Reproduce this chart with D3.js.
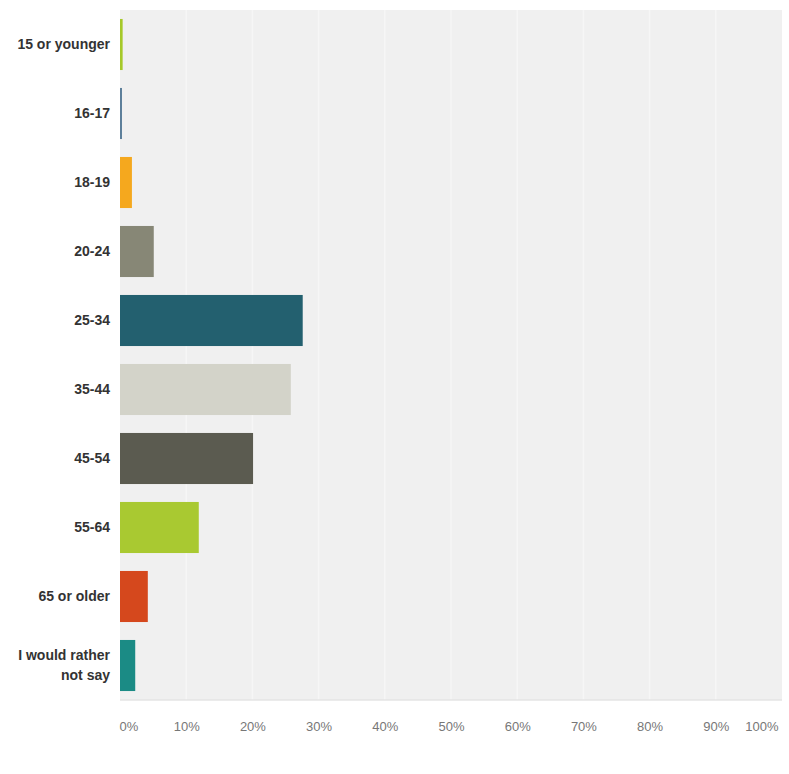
<!DOCTYPE html>
<html>
<head>
<meta charset="utf-8">
<script src="https://cdn.jsdelivr.net/npm/d3@7/dist/d3.min.js"></script>
<style>
  html, body { margin: 0; padding: 0; background: #ffffff; }
  svg { display: block; }
</style>
</head>
<body>
<svg id="chart" width="789" height="774"></svg>
<script>
// Age groups of respondents (percent of answers)
const categories = ["15 or younger", "16-17", "18-19", "20-24", "25-34", "35-44", "45-54", "55-64", "65 or older", "I would rather not say"];
const values = [0.4, 0.3, 1.8, 5.1, 27.6, 25.8, 20.1, 11.9, 4.2, 2.3];
const colors = ["#a6c92a", "#5d7f9a", "#f5a81e", "#878776", "#23606f", "#d3d3c9", "#5b5b50", "#a9c931", "#d5481d", "#1b8b85"];
const tickValues = [0, 10, 20, 30, 40, 50, 60, 70, 80, 90, 100];
const tickLabels = ["0%", "10%", "20%", "30%", "40%", "50%", "60%", "70%", "80%", "90%", "100%"];

const svg = d3.select("#chart");
const plot = { left: 120, right: 782, top: 10, bottom: 700 };

const x = d3.scaleLinear().domain([0, 100]).range([plot.left, plot.right]);
const y = d3.scaleBand().domain(categories).range([plot.top, plot.bottom]).paddingInner(0.26).paddingOuter(0.13);

// plot background
svg.append("rect")
  .attr("x", plot.left).attr("y", plot.top)
  .attr("width", plot.right - plot.left).attr("height", plot.bottom - plot.top)
  .attr("fill", "#f0f0f0");

// vertical grid lines (very faint)
svg.append("g").selectAll("line")
  .data(tickValues.slice(1, -1))
  .join("line")
  .attr("x1", d => x(d)).attr("x2", d => x(d))
  .attr("y1", plot.top).attr("y2", plot.bottom)
  .attr("stroke", "#f6f6f6").attr("stroke-width", 1.5);

// bottom edge of plot
svg.append("line")
  .attr("x1", plot.left).attr("x2", plot.right)
  .attr("y1", plot.bottom).attr("y2", plot.bottom)
  .attr("stroke", "#e4e4e4").attr("stroke-width", 1.5);

// bars
svg.append("g").selectAll("rect")
  .data(categories)
  .join("rect")
  .attr("x", x(0))
  .attr("y", d => y(d))
  .attr("height", y.bandwidth())
  .attr("width", (d, i) => Math.max(1.5, x(values[i]) - x(0)))
  .attr("fill", (d, i) => colors[i]);

// category labels (bold, right-aligned, wrapped where long)
const labelWrap = { "I would rather not say": ["I would rather", "not say"] };
const catG = svg.append("g")
  .attr("font-family", "'Liberation Sans', Arial, sans-serif")
  .attr("font-size", 14).attr("font-weight", "bold").attr("fill", "#333333")
  .attr("text-anchor", "end");
categories.forEach(c => {
  const lines = labelWrap[c] || [c];
  const cy = y(c) + y.bandwidth() / 2;
  const lh = 20;
  lines.forEach((ln, k) => {
    catG.append("text")
      .attr("x", 110)
      .attr("y", cy + (k - (lines.length - 1) / 2) * lh)
      .attr("dy", "0.35em")
      .text(ln);
  });
});

// x axis tick labels
const axis = d3.axisBottom(x)
  .tickValues(tickValues)
  .tickFormat((d, i) => tickLabels[i])
  .tickSize(0)
  .tickPadding(0);
const axG = svg.append("g")
  .attr("transform", `translate(0, ${plot.bottom + 22})`)
  .call(axis);
axG.select(".domain").remove();
axG.selectAll("text")
  .attr("font-family", "'Liberation Sans', Arial, sans-serif")
  .attr("font-size", 13)
  .attr("fill", "#777777")
  .attr("dy", "0.71em")
  .attr("text-anchor", (d) => d === 0 ? "start" : (d === 100 ? "end" : "middle"))
  .attr("dx", (d) => d === 0 ? -1 : (d === 100 ? -4 : 0));
</script>
</body>
</html>
